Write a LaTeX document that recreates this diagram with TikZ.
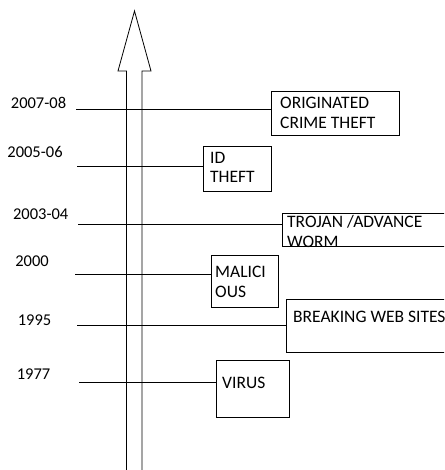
\documentclass[tikz,border=0pt]{standalone}
\usepackage{fontspec}
\setmainfont{Carlito}
\usepackage{tikz}

\begin{document}
\begin{tikzpicture}[x=1pt, y=1pt,
	box/.style={draw, rectangle, line width=0.9pt, inner sep=0pt, anchor=north west},
	txt/.style={anchor=north west, align=left, inner sep=0pt, font=\fontsize{17.5}{19.8}\selectfont},
	ano/.style={inner sep=0pt, font=\fontsize{16.5}{19}\selectfont},
	linha/.style={line width=0.8pt}
	]
	\useasboundingbox (0,0) rectangle (444,470);
	\clip (0,0) rectangle (444,470);

	\draw[linha] (126.5,0) -- (126.5,399) -- (118,399) -- (134.5,459) -- (151,399) -- (142,399) -- (142,0);

	\node[box, minimum width=127.5, minimum height=44.3] (orig) at (271,379.3) {};
	\node[box, minimum width=68, minimum height=45] (idtheft) at (203,324.3) {};
	\node[box, minimum width=190, minimum height=33.3] (trojan) at (282,257.3) {};
	\node[box, minimum width=67, minimum height=51.7] (malic) at (211,215) {};
	\node[box, minimum width=190, minimum height=53.3] (breaking) at (286,171.3) {};
	\node[box, minimum width=73, minimum height=56.7] (virus) at (216,110) {};

	\node[txt] (t_orig) at ([shift={(9,-6.6)}]orig.north west) {ORIGINATED\\CRIME THEFT};
	\node[txt] (t_idtheft) at ([shift={(7,-6)}]idtheft.north west) {ID\\THEFT};
	\node[txt] (t_trojan) at ([shift={(5,-2.3)}]trojan.north west) {TROJAN /ADVANCE\\WORM};
	\node[txt] (t_malic) at ([shift={(4,-10.7)}]malic.north west) {MALICI\\OUS};
	\node[txt] (t_breaking) at ([shift={(7,-12.3)}]breaking.north west) {BREAKING WEB SITES};
	\node[txt] (t_virus) at ([shift={(6,-16.7)}]virus.north west) {VIRUS};

	\node[ano] (a1) at (38.5,367.5) {2007-08};
	\node[ano] (a2) at (35,318) {2005-06};
	\node[ano] (a3) at (40.7,255.5) {2003-04};
	\node[ano] (a4) at (32,208.5) {2000};
	\node[ano] (a5) at (34.5,150) {1995};
	\node[ano] (a6) at (33.5,95.5) {1977};

	\coordinate (l1) at (76,361);
	\coordinate (l2) at (77,304);
	\coordinate (l3) at (78,246);
	\coordinate (l4) at (75,196);
	\coordinate (l5) at (77,145);
	\coordinate (l6) at (79,88);

	\draw[linha] (l1) -- (l1 -| orig.west);
	\draw[linha] (l2) -- (l2 -| idtheft.west);
	\draw[linha] (l3) -- (l3 -| trojan.west);
	\draw[linha] (l4) -- (l4 -| malic.west);
	\draw[linha] (l5) -- (l5 -| breaking.west);
	\draw[linha] (l6) -- (l6 -| virus.west);
\end{tikzpicture}
\end{document}
